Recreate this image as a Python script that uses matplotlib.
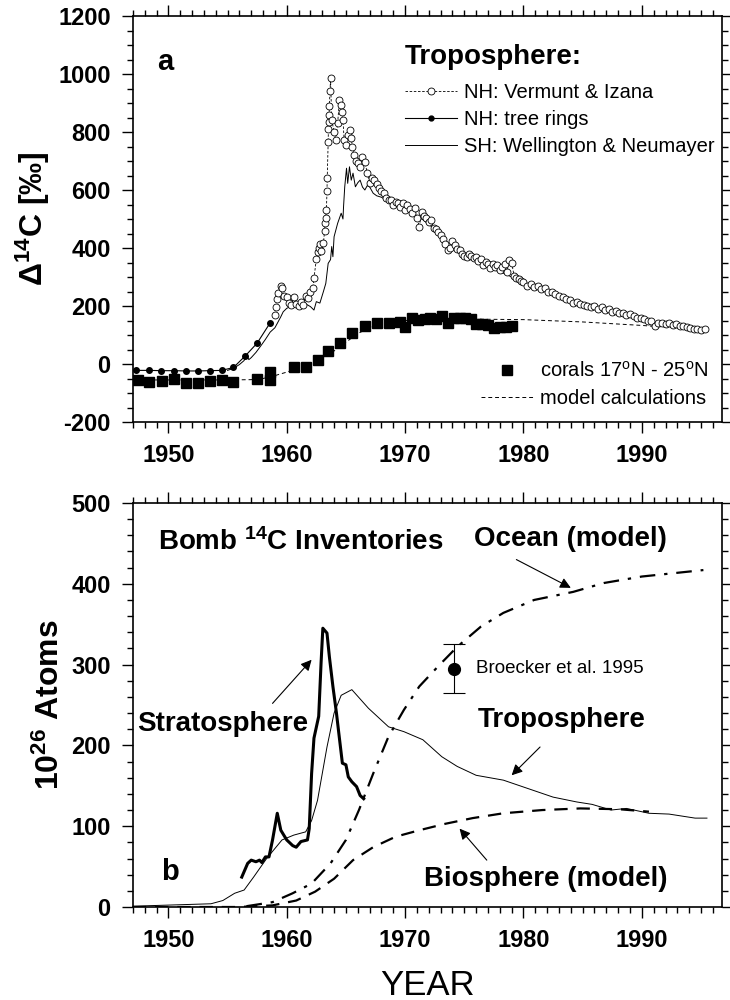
import matplotlib
matplotlib.use("Agg")
import matplotlib.pyplot as plt
from matplotlib.lines import Line2D
from matplotlib.ticker import MultipleLocator

plt.rcParams['font.family'] = ['Liberation Sans', 'DejaVu Sans']
plt.rcParams['mathtext.fontset'] = 'custom'
plt.rcParams['mathtext.rm'] = 'Liberation Sans'
plt.rcParams['mathtext.it'] = 'Liberation Sans'
plt.rcParams['mathtext.bf'] = 'Liberation Sans:bold'
plt.rcParams['axes.unicode_minus'] = False

#############################
#   panel a: tropospheric D14C
#############################
nh_years = [1959.0, 1959.1, 1959.2, 1959.3, 1959.5, 1959.6, 1959.8, 1960.0, 1960.2, 1960.4,
            1960.6, 1960.8, 1961.0, 1961.2, 1961.4, 1961.6, 1961.8, 1962.0, 1962.2, 1962.3,
            1962.5, 1962.6, 1962.7, 1962.8, 1962.9, 1963.1, 1963.2, 1963.25, 1963.3, 1963.35,
            1963.4, 1963.42, 1963.5, 1963.52, 1963.55, 1963.58, 1963.6, 1963.65, 1963.7, 1963.8,
            1964.0, 1964.15, 1964.3, 1964.45, 1964.55, 1964.65, 1964.75, 1964.85, 1965.0, 1965.2,
            1965.35, 1965.45, 1965.55, 1965.7, 1965.85, 1966.0, 1966.2, 1966.4, 1966.6, 1966.8,
            1967.0, 1967.2, 1967.4, 1967.6, 1967.8, 1968.0, 1968.2, 1968.4, 1968.6, 1968.8,
            1969.0, 1969.2, 1969.4, 1969.6, 1969.8, 1970.0, 1970.2, 1970.4, 1970.6, 1970.8,
            1971.0, 1971.2, 1971.4, 1971.6, 1971.8, 1972.0, 1972.2, 1972.4, 1972.6, 1972.8,
            1973.0, 1973.2, 1973.4, 1973.6, 1973.8, 1974.0, 1974.2, 1974.4, 1974.6, 1974.8,
            1975.0, 1975.2, 1975.4, 1975.6, 1975.8, 1976.0, 1976.2, 1976.4, 1976.6, 1976.8,
            1977.0, 1977.2, 1977.4, 1977.6, 1977.8, 1978.0, 1978.2, 1978.4, 1978.6, 1978.8,
            1979.0, 1979.2, 1979.4, 1979.6, 1979.8, 1980.0, 1980.3, 1980.6, 1980.9, 1981.2,
            1981.5, 1981.8, 1982.1, 1982.4, 1982.7, 1983.0, 1983.3, 1983.6, 1983.9, 1984.2,
            1984.5, 1984.8, 1985.1, 1985.4, 1985.7, 1986.0, 1986.3, 1986.6, 1986.9, 1987.2,
            1987.5, 1987.8, 1988.1, 1988.4, 1988.7, 1989.0, 1989.3, 1989.6, 1989.9, 1990.2,
            1990.5, 1990.8, 1991.1, 1991.4, 1991.7, 1992.0, 1992.3, 1992.6, 1992.9, 1993.2,
            1993.5, 1993.8, 1994.1, 1994.4, 1994.7, 1995.0, 1995.3]
nh_d14c = [170, 195, 225, 245, 270, 262, 235, 230, 212, 205,
           232, 208, 200, 215, 205, 236, 228, 250, 262, 295,
           362, 385, 400, 414, 388, 416, 460, 485, 505, 530,
           595, 640, 765, 812, 836, 860, 888, 940, 985, 841,
           801, 772, 830, 910, 893, 870, 841, 772, 755, 790,
           807, 778, 749, 721, 700, 692, 680, 715, 698, 658,
           624, 641, 634, 620, 606, 595, 590, 572, 565, 566,
           548, 560, 554, 540, 554, 530, 548, 535, 520, 537,
           505, 473, 525, 510, 502, 490, 496, 470, 467, 455,
           444, 430, 415, 392, 400, 425, 409, 395, 392, 380,
           374, 368, 380, 374, 365, 369, 355, 363, 340, 351,
           345, 330, 346, 335, 340, 325, 334, 345, 317, 357,
           350, 305, 295, 293, 285, 282, 270, 275, 264, 270,
           258, 262, 250, 247, 240, 235, 230, 225, 222, 212,
           215, 208, 205, 200, 195, 200, 190, 195, 186, 189,
           180, 183, 175, 177, 170, 172, 165, 160, 158, 154,
           150, 148, 131, 143, 140, 138, 140, 134, 137, 130,
           131, 127, 125, 122, 119, 118, 120]

tree_years = [1947.3, 1948.4, 1949.4, 1950.5, 1951.5, 1952.5, 1953.5, 1954.5,
              1955.5, 1956.5, 1957.5, 1958.6]
tree_d14c = [-22, -22, -23, -23, -24, -24, -23, -22, -12, 28, 72, 142]

sh_years = [1955.0, 1955.5, 1956.0, 1956.4, 1956.6, 1956.8, 1957.0, 1957.4, 1957.8, 1958.2,
            1958.6, 1959.0, 1959.2, 1959.5, 1959.7, 1960.0, 1960.3, 1960.6, 1960.9, 1961.2,
            1961.4, 1961.7, 1962.0, 1962.3, 1962.5, 1962.8, 1963.1, 1963.3, 1963.5, 1963.7,
            1963.8, 1963.9, 1964.0, 1964.3, 1964.6, 1964.75, 1964.8, 1964.9, 1965.05, 1965.15,
            1965.3, 1965.45, 1965.6, 1965.8, 1966.0, 1966.2, 1966.4, 1966.6, 1966.8, 1967.0,
            1967.3, 1967.6, 1968.0, 1968.4, 1968.8, 1969.2, 1969.6, 1970.0, 1970.4, 1970.8,
            1971.2, 1971.6, 1972.0, 1972.4, 1972.8, 1973.2, 1973.6, 1974.0, 1974.4, 1974.8,
            1975.2, 1975.6, 1976.0, 1976.5, 1977.0, 1977.5, 1978.0, 1978.5, 1979.0, 1979.5,
            1980.0, 1980.5, 1981.0, 1981.5, 1982.0, 1982.5, 1983.0, 1983.5, 1984.0, 1984.5,
            1985.0, 1985.5, 1986.0, 1986.5, 1987.0, 1987.5, 1988.0, 1988.5, 1989.0, 1989.5,
            1990.0, 1990.5, 1991.0, 1991.5, 1992.0, 1992.5, 1993.0, 1993.5, 1994.0, 1994.5,
            1995.0]
sh_d14c = [-22, -15, -2, 12, 32, 15, 22, 40, 62, 85,
           110, 125, 140, 163, 180, 192, 198, 196, 203, 200,
           210, 205, 198, 186, 215, 210, 250, 278, 347, 360,
           405, 370, 439, 485, 520, 500, 543, 611, 675, 623,
           680, 634, 658, 611, 625, 634, 610, 600, 615, 611,
           589, 580, 575, 565, 555, 550, 540, 535, 528, 515,
           505, 495, 480, 470, 450, 430, 410, 400, 395, 378,
           370, 365, 355, 345, 335, 325, 318, 310, 300, 290,
           280, 272, 265, 258, 250, 240, 232, 225, 215, 210,
           205, 198, 192, 188, 183, 178, 172, 168, 163, 158,
           152, 146, 142, 138, 135, 132, 128, 125, 122, 118,
           115]

coral_years = [1947.4, 1948.4, 1949.5, 1950.5, 1951.5, 1952.5, 1953.5, 1954.5, 1955.5,
               1957.5, 1958.6, 1958.6, 1960.6, 1961.6, 1962.6, 1963.5, 1964.5, 1965.5,
               1966.6, 1967.6, 1968.6, 1969.6, 1970.0, 1970.6, 1971.1, 1971.7, 1972.1,
               1972.6, 1973.1, 1973.6, 1974.1, 1974.6, 1975.1, 1975.6, 1976.0, 1976.5,
               1977.0, 1977.5, 1978.0, 1978.5, 1979.0]
coral_d14c = [-54, -63, -57, -52, -66, -66, -58, -54, -63,
              -52, -54, -26, -12, -12, 15, 44, 73, 108,
              131, 140, 143, 145, 129, 157, 152, 154, 157,
              155, 166, 143, 160, 160, 157, 154, 137, 137,
              133, 125, 129, 129, 130]

model_years = [1947, 1950, 1955, 1957, 1958, 1959, 1960, 1961, 1962, 1963, 1964, 1965,
               1966, 1967, 1968, 1969, 1970, 1972, 1975, 1980, 1985, 1990, 1995]
model_d14c = [-55, -55, -55, -54, -50, -40, -28, -15, 0, 20, 45, 75,
              105, 125, 138, 145, 150, 154, 155, 153, 145, 133, 118]

#############################
#   panel b: bomb 14C inventories (10^26 atoms)
#############################
strat_years = [1956.2, 1956.7, 1957.0, 1957.4, 1957.7, 1957.9, 1958.2, 1958.5, 1958.8,
               1959.2, 1959.5, 1960.0, 1960.5, 1960.8, 1961.2, 1961.75, 1961.9, 1962.1,
               1962.3, 1962.7, 1962.9, 1963.05, 1963.4, 1963.6, 1963.9, 1964.2, 1964.4,
               1964.7, 1965.0, 1965.2, 1965.5, 1965.9, 1966.2, 1966.5]
strat_inv = [37, 54, 58, 56, 58, 55, 62, 62, 83,
             116, 95, 83, 76, 74, 81, 83, 97, 165,
             209, 236, 302, 345, 339, 310, 273, 240, 215,
             178, 176, 161, 155, 149, 138, 134]

tropo_years = [1947.0, 1953.6, 1954.6, 1955.6, 1956.4, 1957.2, 1958.3, 1959.6, 1960.6,
               1961.6, 1962.1, 1962.6, 1963.4, 1964.0, 1964.6, 1965.5, 1966.9, 1968.6,
               1969.9, 1971.5, 1973.1, 1974.4, 1976.0, 1978.3, 1979.9, 1982.5, 1984.5,
               1985.8, 1987.4, 1988.7, 1990.6, 1992.3, 1994.5, 1995.5]
tropo_inv = [1, 4, 8, 17, 21, 37, 60, 83, 89,
             93, 107, 132, 198, 240, 262, 269, 246, 223,
             217, 207, 186, 174, 163, 157, 149, 136, 130,
             127, 120, 122, 116, 115, 110, 110]

ocean_years = [1956.6, 1958.8, 1960.5, 1962.1, 1963.7, 1965.0, 1966.1, 1967.3, 1968.6,
               1969.9, 1971.2, 1972.8, 1974.4, 1976.4, 1978.3, 1980.9, 1984.2, 1986.8,
               1990.0, 1992.6, 1995.2]
ocean_inv = [1, 6, 17, 29, 54, 83, 120, 165, 211,
             244, 273, 298, 322, 347, 364, 380, 390, 401,
             409, 413, 417]

bio_years = [1947.0, 1955.9, 1958.8, 1960.8, 1962.4, 1964.0, 1965.6, 1967.3, 1969.2,
             1971.2, 1973.4, 1975.7, 1978.3, 1981.6, 1984.8, 1988.1, 1990.6]
bio_inv = [0, 0, 2, 8, 19, 35, 58, 74, 87,
           95, 103, 110, 116, 120, 122, 121, 118]

broecker_year = [1974.1]
broecker_inv = [295]
broecker_err = [30]

xlim = (1947.0, 1996.8)
tick_fs = 17

fig = plt.figure(figsize=(7.3, 10), dpi=100)
ax1 = fig.add_axes([0.182, 0.578, 0.8075, 0.406])
ax2 = fig.add_axes([0.182, 0.093, 0.8075, 0.404])

for ax in (ax1, ax2):
    ax.set_xlim(*xlim)
    ax.xaxis.set_major_locator(MultipleLocator(10))
    ax.xaxis.set_minor_locator(MultipleLocator(1))
    ax.tick_params(which='both', direction='out', top=True, right=True,
                   labelsize=tick_fs, width=1.0, pad=8)
    ax.tick_params(which='major', length=8)
    ax.tick_params(which='minor', length=4)
    for s in ax.spines.values():
        s.set_linewidth(1.2)

# --- panel a ---
ax1.set_ylim(-200, 1200)
ax1.yaxis.set_major_locator(MultipleLocator(200))
ax1.yaxis.set_minor_locator(MultipleLocator(50))

ax1.plot(model_years, model_d14c, color='k', lw=0.7, ls=(0, (4, 3)))
ax1.plot(sh_years, sh_d14c, color='k', lw=0.7)
nh_line, = ax1.plot(nh_years, nh_d14c, color='k', lw=0.6, ls=(0, (3, 2)),
                    marker='o', ms=5, mfc='white', mec='k', mew=0.6)
tree_line, = ax1.plot(tree_years, tree_d14c, color='k', lw=0.8,
                      marker='o', ms=4, mfc='k', mec='k')
coral_pts, = ax1.plot(coral_years, coral_d14c, ls='none', marker='s', ms=6.5,
                      mfc='k', mec='k')
ax1.set_ylabel(r'$\mathbf{\Delta^{14}}$C [‰]', fontsize=23, fontweight='bold', labelpad=4)
ax1.text(1949.7, 1040, 'a', fontsize=21, fontweight='bold', ha='center', va='center')
ax1.text(1970.0, 1059, 'Troposphere:', fontsize=20, fontweight='bold',
         ha='left', va='center')

h_nh = Line2D([], [], color='k', lw=0.6, ls=(0, (3, 2)), marker='o', ms=5,
              mfc='white', mec='k', mew=0.6)
h_tree = Line2D([], [], color='k', lw=0.8, marker='o', ms=3.5, mfc='k', mec='k')
h_sh = Line2D([], [], color='k', lw=0.7)
leg1 = ax1.legend([h_nh, h_tree, h_sh],
                  ['NH: Vermunt & Izana', 'NH: tree rings', 'SH: Wellington & Neumayer'],
                  fontsize=14.5, frameon=False, loc='upper left',
                  bbox_to_anchor=(0.461, 0.836), handlelength=2.6, handletextpad=0.35,
                  labelspacing=0.4, borderpad=0, borderaxespad=0)
ax1.add_artist(leg1)

h_coral = Line2D([], [], ls='none', marker='s', ms=6.5, mfc='k', mec='k')
h_model = Line2D([], [], color='k', lw=0.7, ls=(0, (4, 3)))
ax1.legend([h_coral, h_model], ['corals 17$^{o}$N - 25$^{o}$N', 'model calculations'],
           fontsize=14.5, frameon=False, loc='lower left', bbox_to_anchor=(0.59, 0.035),
           handlelength=2.6, handletextpad=0.35, labelspacing=0.4,
           borderpad=0, borderaxespad=0)

# --- panel b ---
ax2.set_ylim(0, 500)
ax2.yaxis.set_major_locator(MultipleLocator(100))
ax2.yaxis.set_minor_locator(MultipleLocator(20))

ax2.plot(tropo_years, tropo_inv, color='k', lw=0.7)
ax2.plot(strat_years, strat_inv, color='k', lw=2.2)
ax2.plot(ocean_years, ocean_inv, color='k', lw=1.6, ls=(0, (7, 4, 1.5, 4)))
ax2.plot(bio_years, bio_inv, color='k', lw=1.6, ls=(0, (6, 4)))
ax2.errorbar(broecker_year, broecker_inv, yerr=broecker_err, fmt='o', ms=8.5,
             color='k', ecolor='k', elinewidth=0.8, capsize=8, capthick=0.8)

ax2.set_xlabel('YEAR', fontsize=25, labelpad=12)
ax2.set_ylabel(r'10$^{\mathbf{26}}$ Atoms', fontsize=23, fontweight='bold', labelpad=4)

big = dict(fontsize=20, fontweight='bold', va='center')
ax2.text(1949.1, 452, r'Bomb $^{\mathbf{14}}$C Inventories', ha='left', **big)
ax2.text(1984.0, 455, 'Ocean (model)', ha='center', **big)
ax2.text(1954.6, 227, 'Stratosphere', ha='center', **big)
ax2.text(1983.2, 231, 'Troposphere', ha='center', **big)
ax2.text(1981.9, 35, 'Biosphere (model)', ha='center', **big)
ax2.text(1976.0, 295, 'Broecker et al. 1995', fontsize=13.5, ha='left', va='center')
ax2.text(1950.1, 43, 'b', fontsize=21, fontweight='bold', ha='center', va='center')

arrow = dict(arrowstyle='-|>', color='k', lw=0.8, mutation_scale=16,
             shrinkA=0, shrinkB=0)
ax2.annotate('', xy=(1984.0, 395), xytext=(1979.4, 430), arrowprops=arrow)
ax2.annotate('', xy=(1962.1, 306), xytext=(1958.8, 252), arrowprops=arrow)
ax2.annotate('', xy=(1979.0, 163), xytext=(1981.4, 198), arrowprops=arrow)
ax2.annotate('', xy=(1974.6, 97), xytext=(1976.9, 58), arrowprops=arrow)

# tick labels in bold, like the rest of the lettering
for ax in (ax1, ax2):
    for lab in ax.get_xticklabels() + ax.get_yticklabels():
        lab.set_fontweight('bold')

plt.savefig("out.png", dpi=100)
